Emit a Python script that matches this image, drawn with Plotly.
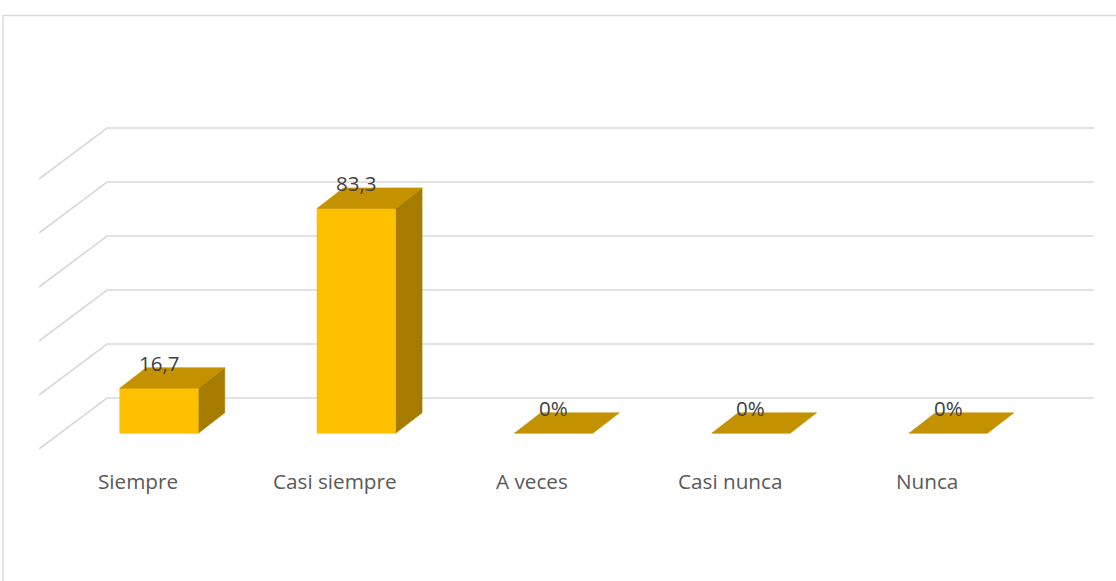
import plotly.graph_objects as go

# Survey answers and their percentages
categories = ["Siempre", "Casi siempre", "A veces", "Casi nunca", "Nunca"]
values = [16.7, 83.3, 0, 0, 0]
value_labels = ["16,7", "83,3", "0%", "0%", "0%"]
tick_values = [0, 20, 40, 60, 80, 100]

# Figure size and scales (pixels per category step / per percentage point)
W, H = 1116, 581
PX_X = 197.3
PX_Y = 2.70
X0_PX = 159.0     # pixel of the first category centre
Y0_PX = 433.3     # pixel of value 0 on the bar front plane

x_range = [-X0_PX / PX_X, (W - X0_PX) / PX_X]
y_range = [(Y0_PX - H) / PX_Y, Y0_PX / PX_Y]


def dx(px):
    return px / PX_X


def dy(px):
    return -px / PX_Y


# Oblique 3-D projection offsets (pixel vectors, converted to data units)
FLOOR_FRONT = (dx(-21.3), dy(15.7))   # front edge of floor relative to bar fronts
BACK_WALL = (dx(46.7), dy(-35.3))     # back wall relative to bar fronts
BAR_DEPTH = (dx(26.5), dy(-20.5))     # depth of each bar
BAR_W = 78.5 / PX_X

FRONT_COL = "#FFC000"
TOP_COL = "#C49200"
SIDE_COL = "#A67C00"
GRID_COL = "#D9D9D9"

fig = go.Figure()

# Gridlines: diagonal on the side wall + horizontal on the back wall
gx, gy = [], []
left, right = -0.5, len(categories) - 0.5
for v in tick_values:
    gx += [left + FLOOR_FRONT[0], left + BACK_WALL[0], right + BACK_WALL[0], None]
    gy += [v + FLOOR_FRONT[1], v + BACK_WALL[1], v + BACK_WALL[1], None]
fig.add_trace(go.Scatter(x=gx, y=gy, mode="lines",
                         line=dict(color=GRID_COL, width=1.7),
                         hoverinfo="skip", showlegend=False))


def face(xs, ys, color):
    fig.add_trace(go.Scatter(x=xs + [xs[0]], y=ys + [ys[0]], mode="lines",
                             fill="toself", fillcolor=color,
                             line=dict(color=color, width=0.6),
                             hoverinfo="skip", showlegend=False))


# 3-D bars built from the values
ddx, ddy = BAR_DEPTH
for i, v in enumerate(values):
    xl, xr = i - BAR_W / 2, i + BAR_W / 2
    if v > 0:
        face([xr, xr + ddx, xr + ddx, xr], [0, ddy, v + ddy, v], SIDE_COL)
        face([xl, xr, xr, xl], [0, 0, v, v], FRONT_COL)
    face([xl, xr, xr + ddx, xl + ddx], [v, v, v + ddy, v + ddy], TOP_COL)

# Value labels above each bar
for i, (v, t) in enumerate(zip(values, value_labels)):
    fig.add_annotation(x=i, y=v + ddy + dy(-4.5), text=t, showarrow=False,
                       xanchor="center", yanchor="middle",
                       font=dict(family="Open Sans", size=20.5, color="#404040"))

# Category labels under the floor front edge
for i, c in enumerate(categories):
    fig.add_annotation(x=i + FLOOR_FRONT[0], y=FLOOR_FRONT[1] + dy(32), text=c,
                       showarrow=False, xanchor="center", yanchor="middle",
                       font=dict(family="Open Sans", size=20.7, color="#595959"))

# Chart area border
fig.add_shape(type="rect", xref="paper", yref="paper",
              x0=3 / W, x1=1.02, y0=-0.02, y1=1 - 15.5 / H,
              line=dict(color=GRID_COL, width=1.4), fillcolor="rgba(0,0,0,0)")

fig.update_xaxes(range=x_range, visible=False, fixedrange=True)
fig.update_yaxes(range=y_range, visible=False, fixedrange=True)
fig.update_layout(width=W, height=H, margin=dict(l=0, r=0, t=0, b=0),
                  paper_bgcolor="white", plot_bgcolor="white",
                  showlegend=False)

fig.write_html("out.html")
